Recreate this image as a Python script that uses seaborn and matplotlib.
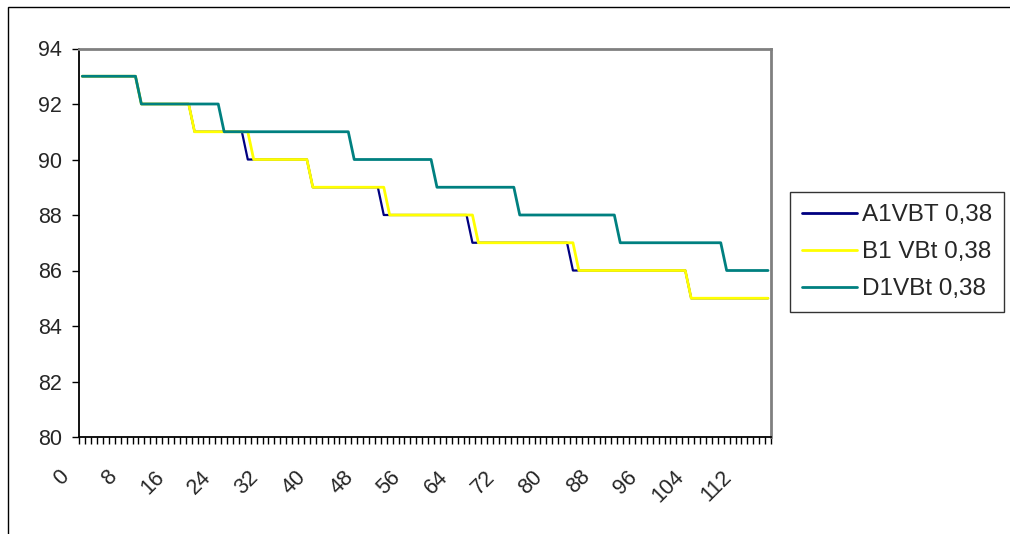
import numpy as np
import pandas as pd
import matplotlib
matplotlib.use("Agg")
import matplotlib.pyplot as plt
from matplotlib.patches import Rectangle
import seaborn as sns

# ---- data: step levels and how many points stay at each ----
series_names = ["A1VBT 0,38", "B1 VBt 0,38", "D1VBt 0,38"]
colors = ["#000080", "#FFFF00", "#008080"]

a_levels = [93, 92, 91, 90, 89, 88, 87, 86, 85]
a_counts = [10, 9, 9, 11, 12, 15, 17, 20, 14]

b_levels = [93, 92, 91, 90, 89, 88, 87, 86, 85]
b_counts = [10, 9, 10, 10, 13, 15, 17, 19, 14]

d_levels = [93, 92, 91, 90, 89, 88, 87, 86]
d_counts = [10, 14, 22, 14, 14, 17, 18, 8]

y_ticks = [80, 82, 84, 86, 88, 90, 92, 94]
x_labels = [0, 8, 16, 24, 32, 40, 48, 56, 64, 72, 80, 88, 96, 104, 112]

a_vals = np.repeat(a_levels, a_counts)
b_vals = np.repeat(b_levels, b_counts)
d_vals = np.repeat(d_levels, d_counts)
n = len(a_vals)
idx = np.arange(n)

df = pd.concat([
    pd.DataFrame({"x": idx, "y": a_vals, "s": series_names[0]}),
    pd.DataFrame({"x": idx, "y": b_vals, "s": series_names[1]}),
    pd.DataFrame({"x": idx, "y": d_vals, "s": series_names[2]}),
], ignore_index=True)

sns.set_style("white")
plt.rcParams["font.family"] = ["Liberation Sans", "DejaVu Sans"]

fig = plt.figure(figsize=(10.1, 5.34), dpi=100)
ax_w_px = 771 - 79.3
ax = fig.add_axes([79.3 / 1010, 1 - 437 / 534, ax_w_px / 1010, (437 - 48.5) / 534])

sns.lineplot(data=df, x="x", y="y", hue="s", hue_order=series_names,
             palette=colors, ax=ax, linewidth=1.9, legend=True, estimator=None)
for line, lw in zip(ax.get_lines(), [1.6, 2.0, 2.0]):
    line.set_linewidth(lw)

ax.set_yticks(y_ticks)
ax.set_yticklabels([str(v) for v in y_ticks], fontsize=15.5)

ax.set_xticks(x_labels)
ax.set_xticklabels([""] * len(x_labels))
ax.set_xticks(np.arange(-0.5, n, 1.0), minor=True)
ax.set_xlim(-0.5, n - 0.5)
ax.set_ylim(80, 94)

# rotated category labels, anchored a little left of their category (Excel style)
for v in x_labels:
    ax.annotate(str(v), xy=(v, 0), xycoords=("data", "axes fraction"),
                xytext=(-11.5, -26.5), textcoords="offset points",
                rotation=45, ha="right", va="center", rotation_mode="anchor",
                fontsize=15.5, annotation_clip=False)

ax.tick_params(axis="x", which="major", bottom=True, length=0)
ax.tick_params(axis="x", which="minor", bottom=True, length=5, width=1,
               color="black", direction="out")
ax.tick_params(axis="y", which="major", left=True, length=5, width=1,
               color="black", direction="out", pad=7.5)
ax.set_xlabel("")
ax.set_ylabel("")
ax.grid(False)

for side in ["left", "bottom"]:
    ax.spines[side].set_color("black")
    ax.spines[side].set_linewidth(1.3)
for side in ["top", "right"]:
    ax.spines[side].set_color("#808080")
    ax.spines[side].set_linewidth(2.0)
    ax.spines[side].set_visible(True)

handles, labels = ax.get_legend_handles_labels()
if ax.get_legend() is not None:
    ax.get_legend().remove()
leg = fig.legend(handles, labels, loc="upper left",
                 bbox_to_anchor=(790 / 1010, 1 - 192 / 534),
                 frameon=True, fancybox=False, fontsize=17.5,
                 handlelength=2.25, handletextpad=0.2, borderpad=0.5,
                 labelspacing=0.62, borderaxespad=0)
leg.get_frame().set_edgecolor("black")
leg.get_frame().set_linewidth(1.0)
for h in leg.get_lines():
    h.set_linewidth(2.0)

fig.add_artist(Rectangle((8 / 1010, -0.1), 1.2, 1.1 - 7 / 534,
                         transform=fig.transFigure, fill=False,
                         edgecolor="black", linewidth=1.0))

fig.savefig("out.png", dpi=100)
